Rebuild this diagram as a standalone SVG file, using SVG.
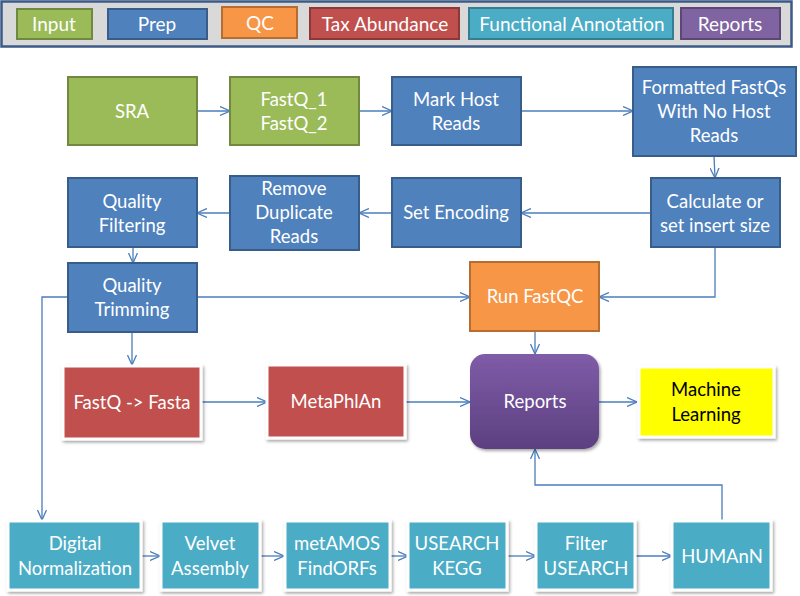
<svg xmlns="http://www.w3.org/2000/svg" width="800" height="596" viewBox="0 0 800 596">
<defs>
<style>
text{font-family:Lato,"Open Sans","Liberation Sans",sans-serif;font-size:18.5px;fill:#fff;text-anchor:middle}
.lg{font-size:19px}
.dark{fill:#000}
.prep{fill:#4f81bd;stroke:#385d8a;stroke-width:2}
.inp{fill:#9bbb59;stroke:#71893f;stroke-width:2}
.qc{fill:#f79646;stroke:#b66d31;stroke-width:2}
.tax{fill:#c0504d;stroke:#fff;stroke-width:3;filter:url(#sh)}
.fun{fill:#4bacc6;stroke:#fff;stroke-width:3;filter:url(#sh)}
.ml{fill:#ffff00;stroke:#fff;stroke-width:3;filter:url(#sh)}
.lgtax{fill:#c0504d;stroke:#8c3836;stroke-width:2}
.lgfun{fill:#4bacc6;stroke:#357d91;stroke-width:2}
.lgrep{fill:#8064a2;stroke:#5c4776;stroke-width:2}
.c{fill:none;stroke:#4a7ebb;stroke-width:1.3;marker-end:url(#arr)}
</style>
<marker id="arr" viewBox="0 0 10 10" refX="10" refY="5" markerWidth="10" markerHeight="10" markerUnits="userSpaceOnUse" orient="auto">
<path d="M0,0.5 L10,5 L0,9.5" fill="none" stroke="#4a7ebb" stroke-width="1.3"/>
</marker>
<filter id="sh" x="-10%" y="-10%" width="130%" height="130%">
<feDropShadow dx="1.5" dy="2" stdDeviation="1.5" flood-color="#000" flood-opacity="0.35"/>
</filter>
<linearGradient id="rg" x1="0" y1="0" x2="0" y2="1">
<stop offset="0" stop-color="#7f5ca8"/>
<stop offset="1" stop-color="#5c4080"/>
</linearGradient>
</defs>

<g id="legend">
<rect x="1.5" y="1.5" width="790" height="45" fill="#d9d9d9" stroke="#3b5a86" stroke-width="2.5"/>
<rect x="17" y="9" width="75" height="30" class="inp"/><text x="54" y="31" class="lg">Input</text>
<rect x="108" y="9" width="99" height="30" class="prep"/><text x="157" y="31" class="lg">Prep</text>
<rect x="222" y="7" width="75" height="31" class="qc"/><text x="260" y="30" class="lg">QC</text>
<rect x="310" y="8" width="149" height="31" class="lgtax"/><text x="385" y="31" class="lg">Tax Abundance</text>
<rect x="469" y="8" width="204" height="31" class="lgfun"/><text x="572" y="31" class="lg">Functional Annotation</text>
<rect x="681" y="8" width="99" height="31" class="lgrep"/><text x="730" y="31" class="lg">Reports</text>
</g>

<g id="connectors">
<path class="c" d="M197,111 H230"/>
<path class="c" d="M359,111 H392"/>
<path class="c" d="M521,111 H633"/>
<path class="c" d="M714,156 L715,178"/>
<path class="c" d="M651,213 H521"/>
<path class="c" d="M392,213 H359"/>
<path class="c" d="M230,213 H197"/>
<path class="c" d="M133,247 V263"/>
<path class="c" d="M197,297 H470"/>
<path class="c" d="M715,247 V297 H599"/>
<path class="c" d="M68,297 H42 V520"/>
<path class="c" d="M132,332 V365"/>
<path class="c" d="M202,402 H267"/>
<path class="c" d="M405,402 H470"/>
<path class="c" d="M535,331 V354"/>
<path class="c" d="M599,402 H637"/>
<path class="c" d="M722,520 V485 H535 V449"/>
<path class="c" d="M141,556 H160"/>
<path class="c" d="M260,556 H284"/>
<path class="c" d="M390,556 H408"/>
<path class="c" d="M507,556 H536"/>
<path class="c" d="M635,556 H672"/>
</g>

<g id="sra"><rect x="68" y="77" width="129" height="68" class="inp"/><text x="132" y="118">SRA</text></g>
<g id="fastq"><rect x="230" y="77" width="129" height="68" class="inp"/><text x="294" y="106">FastQ_1</text><text x="294" y="130">FastQ_2</text></g>
<g id="markhost"><rect x="392" y="77" width="129" height="68" class="prep"/><text x="456" y="106">Mark Host</text><text x="456" y="130">Reads</text></g>
<g id="formatted"><rect x="633" y="67" width="163" height="89" class="prep"/><text x="714" y="94">Formatted FastQs</text><text x="714" y="118">With No Host</text><text x="714" y="142">Reads</text></g>
<g id="calculate"><rect x="651" y="178" width="129" height="69" class="prep"/><text x="715" y="208">Calculate or</text><text x="715" y="232">set insert size</text></g>
<g id="setencoding"><rect x="392" y="178" width="129" height="69" class="prep"/><text x="456" y="219">Set Encoding</text></g>
<g id="removedup"><rect x="230" y="176" width="129" height="74" class="prep"/><text x="294" y="195">Remove</text><text x="294" y="219">Duplicate</text><text x="294" y="243">Reads</text></g>
<g id="qualfilter"><rect x="68" y="178" width="129" height="69" class="prep"/><text x="132" y="208">Quality</text><text x="132" y="232">Filtering</text></g>
<g id="qualtrim"><rect x="68" y="263" width="129" height="69" class="prep"/><text x="132" y="292">Quality</text><text x="132" y="316">Trimming</text></g>
<g id="runfastqc"><rect x="470" y="262" width="129" height="69" class="qc"/><text x="535" y="303">Run FastQC</text></g>
<g id="fastqfasta"><rect x="63" y="366" width="138" height="73" class="tax"/><text x="132" y="409">FastQ -&gt; Fasta</text></g>
<g id="metaphlan"><rect x="267" y="365" width="138" height="73" class="tax"/><text x="336" y="408">MetaPhlAn</text></g>
<g id="reports"><rect x="470" y="354" width="129" height="95" rx="15" fill="url(#rg)" filter="url(#sh)"/><text x="535" y="408">Reports</text></g>
<g id="ml"><rect x="639" y="367" width="135" height="70" class="ml"/><text x="706" y="396" class="dark">Machine</text><text x="706" y="421" class="dark">Learning</text></g>
<g id="digital"><rect x="8" y="521" width="133" height="69" class="fun"/><text x="75" y="550">Digital</text><text x="75" y="575">Normalization</text></g>
<g id="velvet"><rect x="161" y="521" width="99" height="69" class="fun"/><text x="210" y="550">Velvet</text><text x="210" y="575">Assembly</text></g>
<g id="metamos"><rect x="285" y="521" width="105" height="69" class="fun"/><text x="337" y="550">metAMOS</text><text x="337" y="575">FindORFs</text></g>
<g id="usearch"><rect x="408" y="521" width="99" height="69" class="fun"/><text x="457" y="550">USEARCH</text><text x="457" y="575">KEGG</text></g>
<g id="filter"><rect x="536" y="521" width="99" height="69" class="fun"/><text x="586" y="550">Filter</text><text x="586" y="575">USEARCH</text></g>
<g id="humann"><rect x="672" y="521" width="99" height="69" class="fun"/><text x="722" y="563">HUMAnN</text></g>
</svg>
